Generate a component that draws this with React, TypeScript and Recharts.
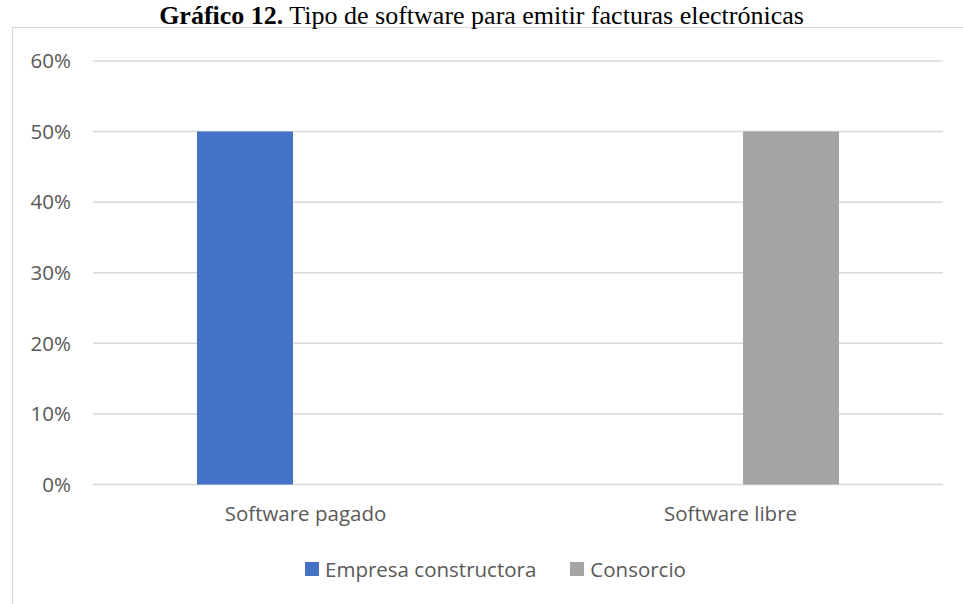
import { Bar, BarChart, CartesianGrid, Legend, XAxis, YAxis } from 'recharts'

const categories = ['Software pagado', 'Software libre']
const empresa = [50, 0]
const consorcio = [0, 50]
const yTicks = [0, 10, 20, 30, 40, 50, 60]

const series = [
  { key: 'empresa', name: 'Empresa constructora', color: '#4472C4' },
  { key: 'consorcio', name: 'Consorcio', color: '#A5A5A5' },
]

const data = categories.map((c, i) => ({ name: c, empresa: empresa[i], consorcio: consorcio[i] }))

const font = '"Open Sans", "Noto Sans", sans-serif'

function LegendBox() {
  return (
    <div style={{ height: 40, display: 'flex', justifyContent: 'center', alignItems: 'center', paddingLeft: 28, fontFamily: font, fontSize: 20.5, color: '#595959' }}>
      {series.map((s, i) => (
        <div key={s.key} style={{ display: 'flex', alignItems: 'center', marginLeft: i ? 34 : 0 }}>
          <span style={{ width: 14, height: 14, background: s.color, display: 'inline-block', marginRight: 6 }} />
          {s.name}
        </div>
      ))}
    </div>
  )
}

export default function App() {
  return (
    <div style={{ position: 'absolute', left: 0, top: 0, width: 963, height: 604, background: '#fff', overflow: 'hidden' }}>
      <div style={{ position: 'absolute', left: 12, top: 27, width: 960, height: 600, borderLeft: '1.5px solid #d9d9d9', borderTop: '1.5px solid #d9d9d9' }} />
      <div style={{ position: 'absolute', left: 0, top: 1, width: 963, textAlign: 'center', fontFamily: '"Liberation Serif", "Times New Roman", serif', fontSize: 26, lineHeight: '30px', color: '#000', whiteSpace: 'nowrap' }}>
        <b>Gráfico 12.</b> Tipo de software para emitir facturas electrónicas
      </div>
      <div style={{ position: 'absolute', left: 0, top: 0 }}>
        <BarChart width={963} height={604} data={data} margin={{ top: 61, right: 20, left: 13, bottom: 15 }} barSize={96} barGap={25} barCategoryGap={104}>
          <CartesianGrid vertical={false} stroke="#d9d9d9" strokeWidth={1.5} />
          <XAxis dataKey="name" axisLine={false} tickLine={false} tickSize={0} tickMargin={22} height={64.5} tick={{ fontSize: 20.5, fill: '#595959', fontFamily: font }} />
          <YAxis domain={[0, 60]} ticks={yTicks} width={80} axisLine={false} tickLine={false} tickSize={0} tickMargin={22} tickFormatter={(v) => `${v}%`} tick={{ fontSize: 20.5, fill: '#595959', fontFamily: font }} />
          <Legend verticalAlign="bottom" wrapperStyle={{ left: 0, width: 963 }} content={() => <LegendBox />} />
          {series.map((s) => (
            <Bar key={s.key} dataKey={s.key} name={s.name} fill={s.color} isAnimationActive={false} />
          ))}
        </BarChart>
      </div>
    </div>
  )
}
